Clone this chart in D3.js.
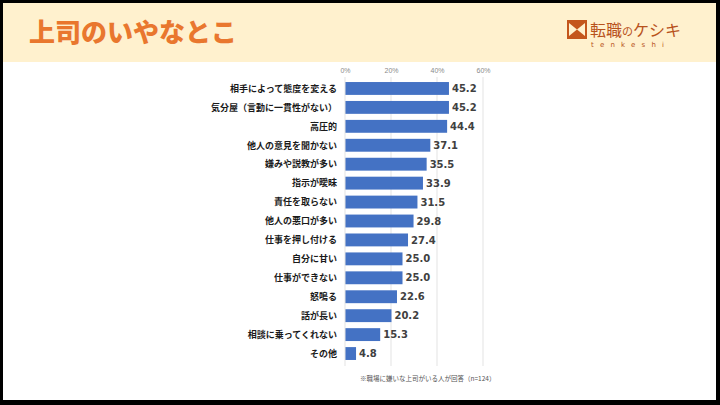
<!DOCTYPE html>
<html><head><meta charset="utf-8">
<script src="https://cdn.jsdelivr.net/npm/d3@7"></script>
<style>html,body{margin:0;padding:0;background:#000;}svg{display:block;}</style>
</head><body>
<script>
const categories = ["相手によって態度を変える","気分屋（言動に一貫性がない）","高圧的","他人の意見を聞かない","嫌みや説教が多い","指示が曖昧","責任を取らない","他人の悪口が多い","仕事を押し付ける","自分に甘い","仕事ができない","怒鳴る","話が長い","相談に乗ってくれない","その他"];
const values = [45.2,45.2,44.4,37.1,35.5,33.9,31.5,29.8,27.4,25.0,25.0,22.6,20.2,15.3,4.8];
const tickValues = [0,20,40,60];
const title = "上司のいやなとこ";
const note = "※職場に嫌いな上司がいる人が回答（n=124）";

const W=720,H=405;
const svg=d3.select("body").append("svg").attr("width",W).attr("height",H);
svg.append("rect").attr("width",W).attr("height",H).attr("fill","#000");
svg.append("rect").attr("x",3).attr("y",3).attr("width",713).attr("height",397).attr("fill","#fff");
svg.append("rect").attr("x",3).attr("y",3).attr("width",713).attr("height",59).attr("fill","#FFF1CE");

svg.append("text").attr("x",29).attr("y",42).text(title)
  .attr("font-family","'Noto Sans CJK JP'").attr("font-weight",900).attr("font-size",26)
  .attr("fill","#E9772E");

// logo
const lg=svg.append("g");
lg.append("rect").attr("x",567).attr("y",20).attr("width",20).attr("height",19).attr("fill","#C4561C");
lg.append("path").attr("d","M569,23 L577,29.5 L569,36 Z M585,23 L577,29.5 L585,36 Z").attr("fill","#FFF1CE");
const lt=lg.append("text").attr("x",590).attr("y",36)
  .attr("font-family","'Noto Sans CJK JP'").attr("font-size",16).attr("fill","#B8521C");
lt.append("tspan").text("転職");
lt.append("tspan").attr("font-size",11).text("の");
lt.append("tspan").text("ケシキ");
lg.append("text").attr("x",591).attr("y",47).text("tenkeshi")
  .attr("font-family","'DejaVu Sans'").attr("font-size",7).attr("letter-spacing",6.2).attr("fill","#B8521C");

const x=d3.scaleLinear().domain([0,60]).range([345,483]);
const y=d3.scaleBand().domain(categories).range([79,363]).paddingInner(0.32).paddingOuter(0.16);

// gridlines
svg.append("g").selectAll("line").data(tickValues.slice(1)).join("line")
  .attr("x1",d=>x(d)).attr("x2",d=>x(d)).attr("y1",77).attr("y2",366)
  .attr("stroke","#E3E3E3").attr("stroke-width",1);

const ax=svg.append("g").attr("transform","translate(0,73)")
  .call(d3.axisTop(x).tickValues(tickValues).tickFormat(d=>d+"%").tickSize(0).tickPadding(0));
ax.select(".domain").remove();
ax.selectAll("text").attr("font-family","'Liberation Sans'").attr("font-size",7).attr("fill","#8a8a8a");

svg.append("g").selectAll("rect").data(values).join("rect")
  .attr("x",x(0)).attr("y",(d,i)=>y(categories[i])).attr("width",d=>x(d)-x(0)).attr("height",y.bandwidth())
  .attr("fill","#4472C4");

svg.append("line").attr("x1",x(0)).attr("x2",x(0)).attr("y1",77).attr("y2",366).attr("stroke","#E3E3E3");

svg.append("g").selectAll("text").data(values).join("text")
  .attr("x",d=>x(d)+3).attr("y",(d,i)=>y(categories[i])+y.bandwidth()/2).attr("dy","0.36em")
  .text(d=>d.toFixed(1))
  .attr("font-family","'DejaVu Sans'").attr("font-weight","bold").attr("font-size",10).attr("fill","#404040");

svg.append("g").selectAll("text").data(categories).join("text")
  .attr("x",337).attr("y",d=>y(d)+y.bandwidth()/2).attr("dy","0.36em").attr("text-anchor","end")
  .text(d=>d)
  .attr("font-family","'Noto Sans CJK JP'").attr("font-weight","bold").attr("font-size",9).attr("fill","#1a1a1a");

svg.append("text").attr("x",360).attr("y",381).text(note)
  .attr("font-family","'Noto Sans CJK JP'").attr("font-size",6.5).attr("fill","#555");
</script>
</body></html>
